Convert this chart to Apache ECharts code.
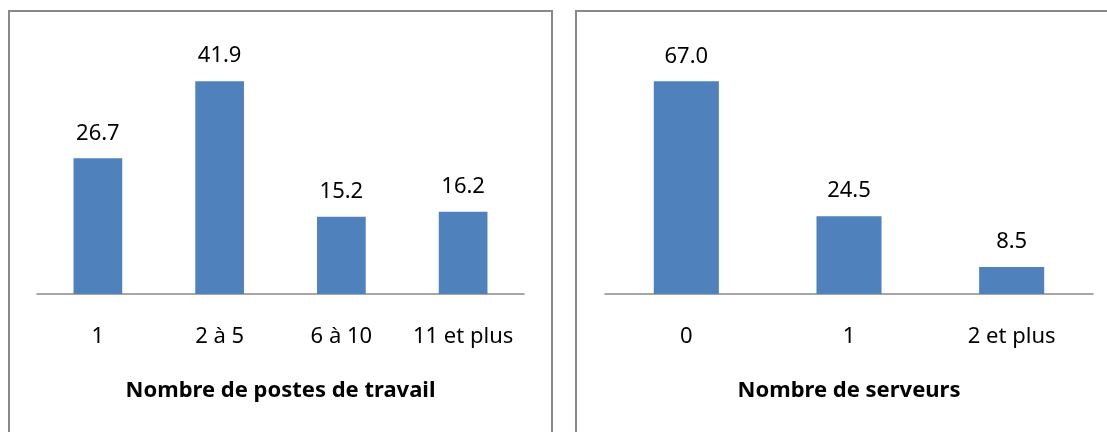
<!DOCTYPE html>
<html>
<head>
<meta charset="utf-8">
<script src="https://cdn.jsdelivr.net/npm/echarts@6/dist/echarts.min.js"></script>
<style>
  html, body { margin: 0; padding: 0; background: #fff; }
  #chart { width: 1107px; height: 432px; }
</style>
</head>
<body>
<div id="chart"></div>
<script>
// données : postes de travail
const postesCats = ['1', '2 à 5', '6 à 10', '11 et plus'];
const postesVals = [26.7, 41.9, 15.2, 16.2];
// données : serveurs
const serveursCats = ['0', '1', '2 et plus'];
const serveursVals = [67.0, 24.5, 8.5];

const FONT = 'Noto Sans';
const BAR = '#4f81bd';
const AXIS = '#898989';

const chart = echarts.init(document.getElementById('chart'));

function catAxis(idx, cats, title) {
    return {
        type: 'category',
        gridIndex: idx,
        data: cats,
        axisLine: { lineStyle: { color: AXIS, width: 1.5 } },
        axisTick: { show: false },
        axisLabel: { color: '#000', fontFamily: FONT, fontSize: 22, margin: 32, interval: 0 },
        name: title,
        nameLocation: 'middle',
        nameGap: 86,
        nameTextStyle: { color: '#000', fontFamily: FONT, fontSize: 22, fontWeight: 'bold' }
    };
}

function valAxis(idx, max) {
    return {
        type: 'value',
        gridIndex: idx,
        min: 0,
        max: max,
        show: false,
        splitLine: { show: false }
    };
}

function barSeries(idx, vals) {
    return {
        type: 'bar',
        xAxisIndex: idx,
        yAxisIndex: idx,
        data: vals,
        barWidth: '40%',
        itemStyle: { color: BAR },
        label: {
            show: true,
            position: 'top',
            distance: 14,
            color: '#000',
            fontFamily: FONT,
            fontSize: 22,
            formatter: p => p.value.toFixed(1)
        }
    };
}

const option = {
    animation: false,
    grid: [
        { left: 37, width: 487, top: 40, height: 254 },
        { left: 605, width: 488, top: 40, height: 254 }
    ],
    xAxis: [
        catAxis(0, postesCats, 'Nombre de postes de travail'),
        catAxis(1, serveursCats, 'Nombre de serveurs')
    ],
    yAxis: [valAxis(0, 50), valAxis(1, 80)],
    series: [barSeries(0, postesVals), barSeries(1, serveursVals)],
    graphic: [
        { type: 'rect', shape: { x: 9, y: 11, width: 543, height: 440 }, style: { fill: 'none', stroke: AXIS, lineWidth: 2 }, silent: true },
        { type: 'rect', shape: { x: 576, y: 11, width: 560, height: 440 }, style: { fill: 'none', stroke: AXIS, lineWidth: 2 }, silent: true }
    ]
};

chart.setOption(option);
</script>
</body>
</html>
